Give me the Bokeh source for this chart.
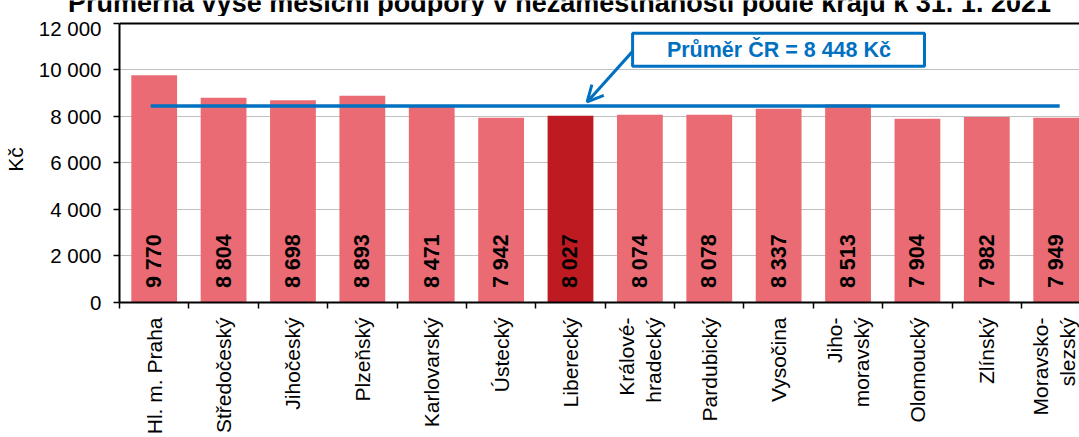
from math import pi
from bokeh.plotting import figure
from bokeh.layouts import column
from bokeh.models import (Range1d, FixedTicker, LinearAxis, ColumnDataSource,
                          Span, Arrow, OpenHead)
from bokeh.embed import file_html
from bokeh.resources import INLINE
from bokeh.core.properties import value

# ---- data ----
regions = ["Hl. m. Praha", "Středočeský", "Jihočeský", "Plzeňský", "Karlovarský",
           "Ústecký", "Liberecký", "Králové-\nhradecký", "Pardubický", "Vysočina",
           "Jiho-\nmoravský", "Olomoucký", "Zlínský", "Moravsko-\nslezský"]
amounts = [9770, 8804, 8698, 8893, 8471, 7942, 8027, 8074, 8078, 8337, 8513, 7904, 7982, 7949]
average = 8448
highlight = "Liberecký"
y_ticks = [0, 2000, 4000, 6000, 8000, 10000, 12000]
title_text = "Průměrná výše měsíční podpory v nezaměstnanosti podle krajů k 31. 1. 2021"
avg_label = "Průměr ČR = 8 448 Kč"
y_axis_title = "Kč"

FONT = "Liberation Sans"
BAR = "#EA6B73"
BAR_HI = "#BE1A22"
BLUE = "#0070C0"

W = 1079
TITLE_H = 16


def fmt(v):
    return f"{v:,}".replace(",", " ")


# ---- title strip (text cut by the top edge, as in the reference) ----
t = figure(width=W, height=TITLE_H, x_range=Range1d(0, W), y_range=Range1d(0, TITLE_H),
           output_backend="svg", toolbar_location=None,
           x_axis_type=None, y_axis_type=None,
           min_border=0)
t.frame_align = False
t.outline_line_color = None
t.grid.visible = False
t.text(x=[559], y=[TITLE_H - 2.5], text=[title_text], text_align="center",
       text_baseline="alphabetic", text_font=value(FONT), text_font_style="bold",
       text_font_size="27px", text_color="black")

# ---- chart ----
n = len(regions)
xs = [i + 0.5 for i in range(n)]
src = ColumnDataSource(dict(
    x=xs,
    top=amounts,
    color=[BAR_HI if r == highlight else BAR for r in regions],
    vlabel=[fmt(a) for a in amounts],
    vy=[620] * n,
))

p = figure(width=W, height=437 - TITLE_H,
           x_range=Range1d(0, 13.836), y_range=Range1d(0, 12300),
           output_backend="svg", toolbar_location=None,
           x_axis_type=None,
           min_border_left=116, min_border_right=0,
           min_border_top=0, min_border_bottom=134)
p.frame_align = False
p.outline_line_color = None
p.background_fill_color = "white"
p.border_fill_color = "white"

# y axis
ya = p.yaxis[0]
ya.bounds = (0, 12000)
ya.ticker = FixedTicker(ticks=y_ticks)
ya.major_label_overrides = {t_: fmt(t_) for t_ in y_ticks}
ya.major_label_text_font = FONT
ya.major_label_text_font_size = "20.5px"
ya.major_label_text_color = "black"
ya.major_label_standoff = 12
ya.major_tick_out = 6
ya.major_tick_in = 0
ya.major_tick_line_color = "black"
ya.major_tick_line_width = 1.5
ya.minor_tick_line_color = None
ya.axis_line_color = "black"
ya.axis_line_width = 2
ya.axis_label = y_axis_title
ya.axis_label_text_font = FONT
ya.axis_label_text_font_size = "21px"
ya.axis_label_text_font_style = "normal"
ya.axis_label_text_color = "black"
ya.axis_label_standoff = 9
p.ygrid.grid_line_color = "#C0C0C0"
p.ygrid.grid_line_width = 1

# x axis: labels at category centres, ticks at category boundaries
xa = LinearAxis(ticker=FixedTicker(ticks=xs, minor_ticks=list(range(n + 1))))
xa.major_label_overrides = {x: r for x, r in zip(xs, regions)}
xa.major_label_orientation = pi / 2
xa.major_label_text_font = FONT
xa.major_label_text_font_size = "21px"
xa.major_label_text_color = "black"
xa.major_label_standoff = 9
xa.major_tick_out = 0
xa.major_tick_in = 0
xa.major_tick_line_color = None
xa.minor_tick_out = 6
xa.minor_tick_in = 0
xa.minor_tick_line_color = "black"
xa.minor_tick_line_width = 1.5
xa.axis_line_color = "black"
xa.axis_line_width = 2
p.add_layout(xa, "below")

p.add_layout(Span(location=12000, dimension="width", line_color="black", line_width=2))

# bars
p.vbar(x="x", top="top", width=0.66, fill_color="color", line_color=None, source=src)

# value labels in bars
p.text(x="x", y="vy", text="vlabel", angle=pi / 2, text_align="left",
       text_baseline="middle", text_font=value(FONT), text_font_style="bold",
       text_font_size="21.5px", text_color="black", source=src)

# average line
p.segment(x0=[0.45], y0=[average], x1=[n - 0.45], y1=[average],
          line_color=BLUE, line_width=3.5)

# arrow + box
p.add_layout(Arrow(end=OpenHead(size=16, line_color=BLUE, line_width=3),
                   x_start=7.395, y_start=10800, x_end=6.74, y_end=average + 180,
                   line_color=BLUE, line_width=3))
p.quad(left=[7.395], right=[11.602], bottom=[10157], top=[11584],
       fill_color="white", line_color=BLUE, line_width=3)
p.text(x=[9.504], y=[10877], text=[avg_label], text_align="center",
       text_baseline="middle", text_font=value(FONT), text_font_style="bold",
       text_font_size="21.5px", text_color=BLUE)

layout = column(t, p, spacing=0)
open("out.html", "w").write(file_html(layout, INLINE))
